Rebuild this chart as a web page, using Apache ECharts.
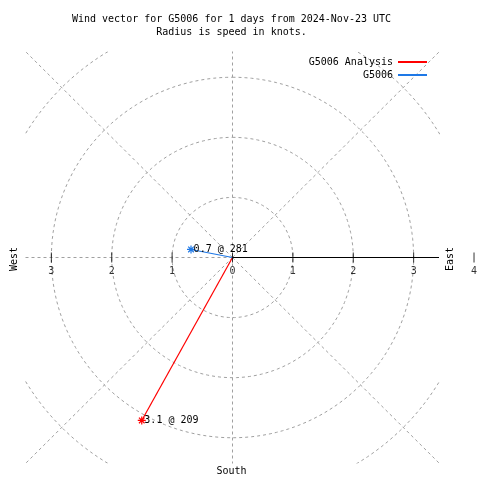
<!DOCTYPE html>
<html><head><meta charset="utf-8">
<script src="https://cdn.jsdelivr.net/npm/echarts@6/dist/echarts.min.js"></script>
<style>html,body{margin:0;padding:0;background:#fff}#c{width:480px;height:480px}</style>
</head><body><div id="c"></div>
<script>
// ---- data ----
const seriesNames = ['G5006 Analysis', 'G5006'];
const seriesSpeeds = [3.1, 0.7];          // knots
const seriesDirections = [209, 281];      // degrees (compass)
const seriesColors = ['#ff0000', '#1e78e6'];
const ringRadii = [1, 2, 3, 4];
const spokeAngles = [0, 45, 135, 180, 225, 270, 315];
const tickValues = [-3, -2, -1, 0, 1, 2, 3, 4];
const axisLimit = 3.42;
const titleLines = ['Wind vector for G5006 for 1 days from 2024-Nov-23 UTC', 'Radius is speed in knots.'];
const compassNames = ['West', 'East', 'South'];

// ---- helpers ----
const FONT = '"DejaVu Sans Mono", monospace';
const GRID_COLOR = '#a0a0a0';
function toXY(r, deg) { const a = deg * Math.PI / 180; return [r * Math.sin(a), r * Math.cos(a)]; }

const chart = echarts.init(document.getElementById('c'), null, { renderer: 'canvas' });
const series = [];

ringRadii.forEach(function (r) {
  const pts = [];
  for (let a = 0; a <= 360; a += 2) pts.push(toXY(r, a));
  series.push({ type: 'line', name: 'ring' + r, data: pts, showSymbol: false, silent: true, clip: true, z: 1,
    lineStyle: { color: GRID_COLOR, width: 1, type: [3, 3] } });
});
spokeAngles.forEach(function (a) {
  series.push({ type: 'line', name: 'spoke' + a, data: [[0, 0], toXY(6, a)], showSymbol: false, silent: true, clip: true, z: 1,
    lineStyle: { color: GRID_COLOR, width: 1, type: [3, 3] } });
});
series.push({ type: 'line', name: 'eastAxis', data: [[0, 0], [axisLimit, 0]], showSymbol: false, silent: true, clip: true, z: 2,
  lineStyle: { color: '#000', width: 1 } });

const STAR = 'path://M4,0L4,8M0,4L8,4M1.2,1.2L6.8,6.8M1.2,6.8L6.8,1.2';
seriesNames.forEach(function (n, i) {
  const end = toXY(seriesSpeeds[i], seriesDirections[i]);
  series.push({
    type: 'line', name: n, z: 3, clip: false, color: seriesColors[i],
    lineStyle: { color: seriesColors[i], width: 1.2 },
    data: [
      { value: [0, 0], symbol: 'none' },
      { value: end, symbol: STAR, symbolSize: 8,
        itemStyle: { color: seriesColors[i], borderColor: seriesColors[i], borderWidth: 1.2 },
        label: { show: true, position: 'right', distance: -2, color: '#000', fontFamily: FONT, fontSize: 10,
          formatter: seriesSpeeds[i].toFixed(1) + ' @ ' + seriesDirections[i] } }
    ]
  });
});

series.push({
  type: 'scatter', name: 'ticks', z: 4, clip: false, silent: true,
  symbol: 'rect', symbolSize: [1, 10], itemStyle: { color: '#000' },
  data: tickValues.map(function (v) { return [v, 0]; }),
  label: { show: true, position: 'bottom', distance: 4, color: '#000', fontFamily: FONT, fontSize: 10,
    formatter: function (p) { return String(Math.abs(p.value[0])); } }
});

chart.setOption({
  animation: false,
  backgroundColor: '#fff',
  grid: { left: 26, top: 52, width: 413, height: 411, containLabel: false },
  xAxis: { type: 'value', min: -axisLimit, max: axisLimit, show: false },
  yAxis: { type: 'value', min: -axisLimit, max: axisLimit, show: false },
  legend: {
    orient: 'vertical', right: 48, top: 51, align: 'right',
    itemWidth: 29, itemHeight: 2, itemGap: 1, itemTextGap: 7,
    icon: 'rect', itemStyle: { borderWidth: 0 },
    textStyle: { fontFamily: FONT, fontSize: 10, color: '#000', lineHeight: 12 },
    data: seriesNames
  },
  graphic: [
    { type: 'text', x: 231.5, y: 13, style: { text: titleLines.join('\n'), align: 'center', verticalAlign: 'top',
      font: '10px ' + FONT, lineHeight: 13, fill: '#000' } },
    { type: 'text', x: 14, y: 259, rotation: Math.PI / 2, style: { text: compassNames[0], align: 'center', verticalAlign: 'middle', font: '10px ' + FONT, fill: '#000' } },
    { type: 'text', x: 450, y: 259, rotation: Math.PI / 2, style: { text: compassNames[1], align: 'center', verticalAlign: 'middle', font: '10px ' + FONT, fill: '#000' } },
    { type: 'text', x: 231.5, y: 471, style: { text: compassNames[2], align: 'center', verticalAlign: 'middle', font: '10px ' + FONT, fill: '#000' } }
  ],
  series: series
});
</script></body></html>
